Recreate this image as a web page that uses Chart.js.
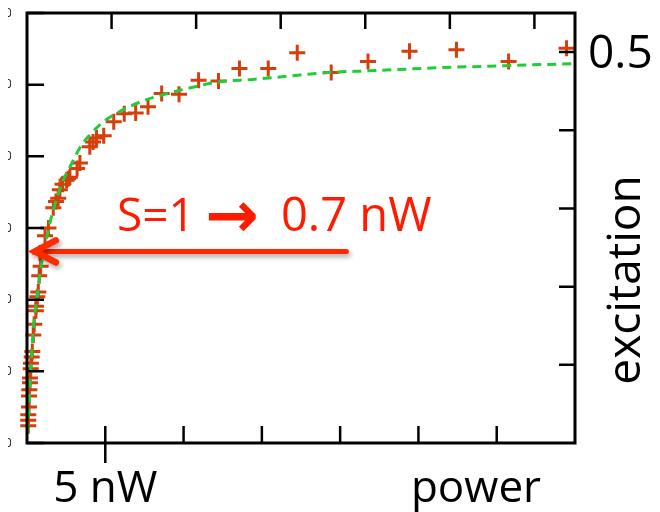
<!DOCTYPE html>
<html>
<head>
<meta charset="utf-8">
<script src="https://cdn.jsdelivr.net/npm/chart.js@4.4.1/dist/chart.umd.min.js"></script>
<style>
  html, body { margin: 0; padding: 0; background: #fff; }
  #wrap { width: 660px; height: 512px; }
</style>
</head>
<body>
<div id="wrap"><canvas id="chart" width="660" height="512"></canvas></div>
<script>
// measured points (power in nW, excitation)
const powerPts = [0.08, 0.08, 0.08, 0.13, 0.13, 0.15, 0.19, 0.19, 0.24, 0.25, 0.30, 0.34, 0.40, 0.46, 0.57, 0.57, 0.66, 0.72, 0.78, 0.87,
  0.83, 1.15, 1.37, 1.68, 1.85, 1.99, 2.10, 2.27, 2.53, 2.63, 2.74, 3.20, 3.38, 4.01, 4.22, 4.44, 4.90, 5.54, 6.21, 6.94, 7.73,
  8.60, 9.71, 10.96, 12.23, 13.57, 15.41, 17.26, 19.43, 21.78, 24.43, 27.43, 30.76, 34.46];
const excitPts = [0.022, 0.029, 0.036, 0.046, 0.060, 0.068, 0.077, 0.083, 0.095, 0.102, 0.110, 0.117, 0.138, 0.152, 0.169, 0.175, 0.187, 0.193, 0.214, 0.226,
  0.243, 0.265, 0.275, 0.301, 0.309, 0.313, 0.324, 0.331, 0.336, 0.338, 0.340, 0.351, 0.358, 0.379, 0.385, 0.390, 0.393, 0.411, 0.421, 0.422, 0.430,
  0.447, 0.446, 0.464, 0.463, 0.479, 0.479, 0.499, 0.474, 0.488, 0.501, 0.503, 0.488, 0.505];

// fit curve
const fitPower = [0.03, 0.24, 0.40, 0.72, 0.83, 1.36, 1.68, 2.31, 2.74, 3.48, 4.01, 4.65, 5.48, 7.20, 8.79, 10.38, 12.29, 14.39, 16.56, 19.30, 21.85, 26.31, 29.49, 32.68, 34.78];
const fitExcit = [0.013, 0.093, 0.145, 0.199, 0.217, 0.272, 0.298, 0.336, 0.353, 0.381, 0.394, 0.407, 0.419, 0.436, 0.446, 0.454, 0.462, 0.465, 0.469, 0.474, 0.476, 0.480, 0.482, 0.484, 0.485];

// axis ticks
const bottomTicks = [5, 10, 15, 20, 25, 30];
const topTicks = [1, 2, 3, 4, 5, 6];
const leftTicks = [0, 1, 2, 3, 4, 5, 6];
const rightTicks = [0.1, 0.2, 0.3, 0.4, 0.5];

// annotation: saturation marker
const arrowY = 0.245;
const arrowFrom = 20.4;
const arrowTo = 0.5;

const font = '"Open Sans", "DejaVu Sans", sans-serif';

const decor = {
  id: 'decor',
  afterDatasetsDraw(chart) {
    const ctx = chart.ctx;
    const a = chart.chartArea;
    const sx = chart.scales.x, sy = chart.scales.y;
    const sxTop = chart.scales.xTop, syLeft = chart.scales.yLeft;

    ctx.save();
    // frame
    ctx.strokeStyle = '#000';
    ctx.lineWidth = 3;
    ctx.strokeRect(a.left, a.top, a.right - a.left, a.bottom - a.top);

    // inside ticks
    ctx.lineWidth = 2.5;
    ctx.beginPath();
    bottomTicks.forEach(v => {
      const px = sx.getPixelForValue(v);
      ctx.moveTo(px, a.bottom);
      ctx.lineTo(px, a.bottom - 17);
    });
    // the labelled tick pokes out below
    const p5 = sx.getPixelForValue(5);
    ctx.moveTo(p5, a.bottom);
    ctx.lineTo(p5, a.bottom + 20);
    topTicks.forEach(v => {
      const px = sxTop.getPixelForValue(v);
      ctx.moveTo(px, a.top);
      ctx.lineTo(px, a.top + 16);
    });
    leftTicks.forEach(v => {
      const py = syLeft.getPixelForValue(v);
      ctx.moveTo(a.left, py);
      ctx.lineTo(a.left + 17, py);
    });
    rightTicks.forEach(v => {
      const py = sy.getPixelForValue(v);
      ctx.moveTo(a.right, py);
      ctx.lineTo(a.right - 16, py);
    });
    ctx.stroke();

    // left tick labels, cut off at the page edge
    ctx.save();
    ctx.beginPath();
    ctx.rect(8, 0, 3, chart.height);
    ctx.clip();
    ctx.fillStyle = '#222';
    ctx.font = '13px ' + font;
    ctx.textAlign = 'right';
    ctx.textBaseline = 'middle';
    leftTicks.forEach(v => ctx.fillText('0', 12, syLeft.getPixelForValue(v)));
    ctx.restore();

    // arrow with soft shadow
    const ay = sy.getPixelForValue(arrowY);
    const ax0 = sx.getPixelForValue(arrowFrom);
    const ax1 = sx.getPixelForValue(arrowTo);
    ctx.save();
    ctx.shadowColor = 'rgba(0,0,0,0.35)';
    ctx.shadowBlur = 5;
    ctx.shadowOffsetX = 2;
    ctx.shadowOffsetY = 3;
    ctx.strokeStyle = '#ff2a00';
    ctx.lineCap = 'round';
    ctx.lineWidth = 5;
    ctx.beginPath();
    ctx.moveTo(ax0, ay);
    ctx.lineTo(ax1 + 6, ay);
    ctx.stroke();
    ctx.lineWidth = 6.5;
    ctx.beginPath();
    ctx.moveTo(ax1 + 21, ay - 11);
    ctx.lineTo(ax1, ay);
    ctx.lineTo(ax1 + 21, ay + 11);
    ctx.stroke();
    ctx.restore();

    // note text, in three parts to match the spacing
    ctx.fillStyle = '#ff1a00';
    ctx.textAlign = 'left';
    ctx.textBaseline = 'alphabetic';
    ctx.font = '46px ' + font;
    ctx.fillText('S=1', 117, 231);
    ctx.font = 'bold 64px "DejaVu Sans", sans-serif';
    ctx.fillText('\u2192', 205, 237);
    ctx.font = '47px ' + font;
    ctx.fillText('0.7 nW', 281, 231);

    ctx.fillStyle = '#000';
    ctx.font = '44px ' + font;
    ctx.textAlign = 'center';
    ctx.fillText('5 nW', p5, 502);
    ctx.fillText('power', 476, 502);

    ctx.textAlign = 'left';
    ctx.textBaseline = 'middle';
    ctx.font = '46px ' + font;
    ctx.fillText('0.5', 588, sy.getPixelForValue(0.5) + 3);

    ctx.save();
    ctx.translate(640, 280);
    ctx.rotate(-Math.PI / 2);
    ctx.textAlign = 'center';
    ctx.textBaseline = 'alphabetic';
    ctx.font = '46px ' + font;
    ctx.fillText('excitation', 0, 0);
    ctx.restore();

    ctx.restore();
  }
};

new Chart(document.getElementById('chart'), {
  type: 'scatter',
  data: {
    datasets: [
      {
        label: 'fit',
        data: fitPower.map((x, i) => ({ x, y: fitExcit[i] })),
        showLine: true,
        borderColor: '#1fcc3a',
        borderWidth: 3,
        borderDash: [9, 6],
        cubicInterpolationMode: 'monotone',
        pointRadius: 0,
        fill: false
      },
      {
        label: 'data',
        data: powerPts.map((x, i) => ({ x, y: excitPts[i] })),
        pointStyle: 'cross',
        pointRadius: 8,
        pointBorderWidth: 3,
        borderColor: '#d63e0c',
        backgroundColor: '#d63e0c',
        clip: false
      }
    ]
  },
  options: {
    responsive: false,
    animation: false,
    devicePixelRatio: 1,
    layout: { padding: { left: 27, right: 85, top: 13, bottom: 69 } },
    plugins: { legend: { display: false }, tooltip: { enabled: false } },
    scales: {
      x: { type: 'linear', min: 0, max: 35, display: false },
      xTop: { type: 'linear', position: 'top', min: 0, max: 6.48, display: false },
      y: { type: 'linear', position: 'right', min: 0, max: 0.55, display: false },
      yLeft: { type: 'linear', position: 'left', min: 0, max: 6, display: false }
    }
  },
  plugins: [decor]
});
</script>
</body>
</html>
